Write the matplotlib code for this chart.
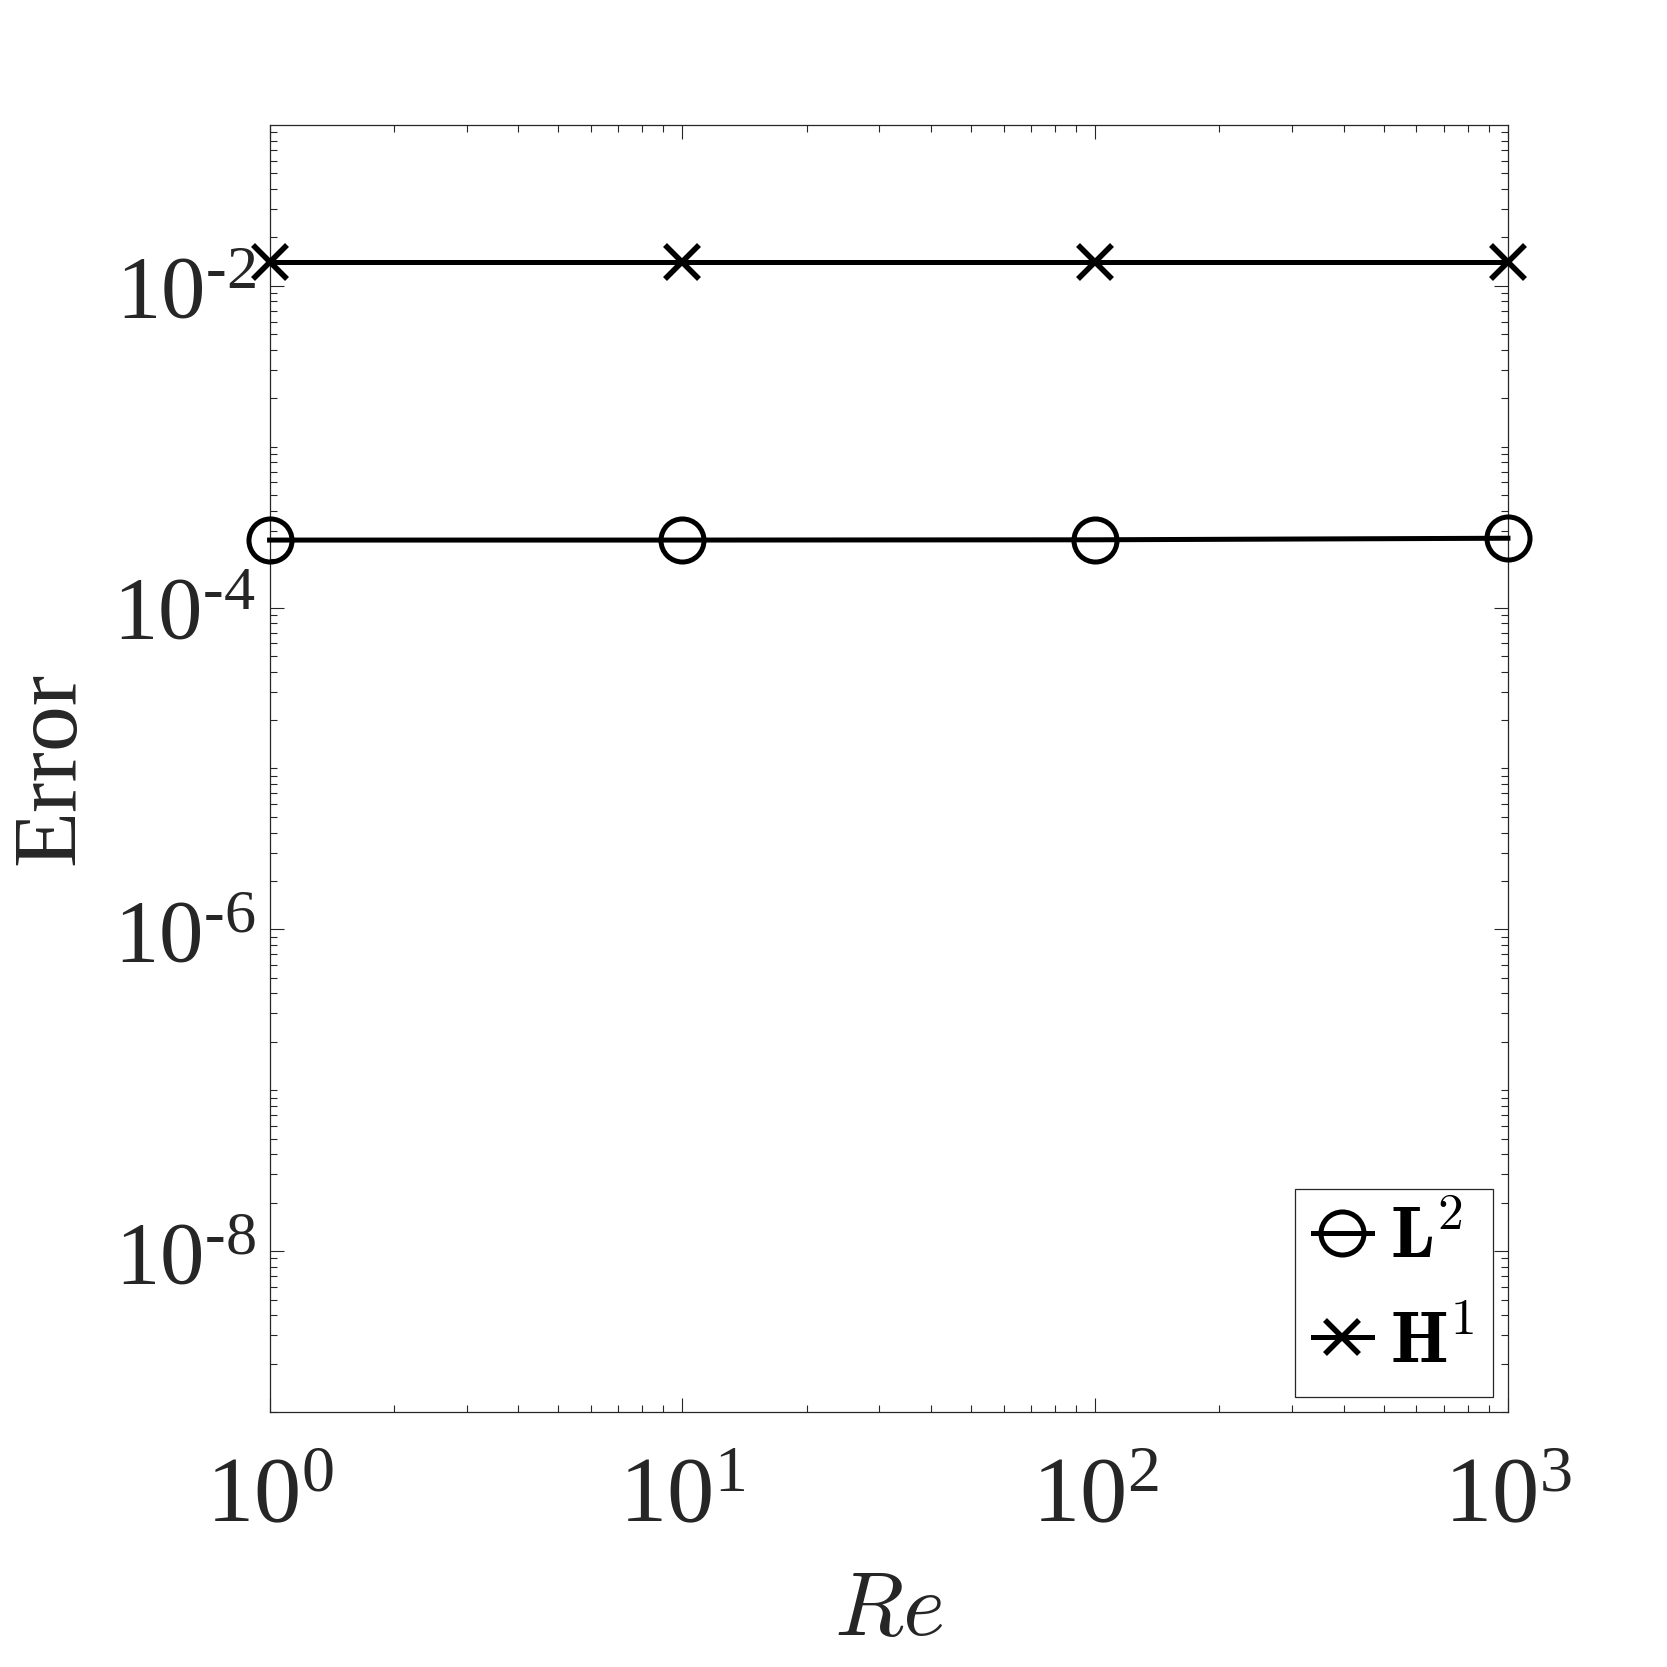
import matplotlib
matplotlib.use("Agg")
import matplotlib.pyplot as plt
from matplotlib.ticker import FixedLocator, FuncFormatter, NullFormatter
from matplotlib.font_manager import FontProperties
import numpy as np

# Data
re_values = [1, 10, 100, 1000]
err_l2 = [2.63e-4, 2.63e-4, 2.64e-4, 2.70e-4]
err_h1 = [1.40e-2, 1.40e-2, 1.40e-2, 1.40e-2]
labels = [r'$\mathbf{L}^2$', r'$\mathbf{H}^1$']
x_major = [1, 10, 100, 1000]
y_major = [1e-8, 1e-6, 1e-4, 1e-2]

plt.rcParams['font.family'] = ['Liberation Serif', 'DejaVu Serif']
plt.rcParams['mathtext.fontset'] = 'custom'
plt.rcParams['mathtext.rm'] = 'Liberation Serif'
plt.rcParams['mathtext.it'] = 'Liberation Serif:italic'
plt.rcParams['mathtext.bf'] = 'Liberation Serif:bold'

TXT = '#262626'
fig = plt.figure(figsize=(16.67, 16.67), dpi=100)
ax = fig.add_axes([0.1617, 0.153, 0.9046 - 0.1617, 0.925 - 0.153])

ax.plot(re_values, err_l2, color='black', lw=3.6, marker='o', ms=31, mew=3.6,
        mfc='none', mec='black', label=labels[0], clip_on=False, zorder=5)
ax.plot(re_values, err_h1, color='black', lw=3.6, marker='x', ms=24, mew=4.0,
        mec='black', label=labels[1], clip_on=False, zorder=5)

ax.set_xscale('log')
ax.set_yscale('log')
ax.set_xlim(1, 1000)
ax.set_ylim(1e-9, 1e-1)

def fmt(v, pos):
    e = int(round(np.log10(v)))
    if e < 0:
        return r'$10^{\text{-}%d}$' % (-e)
    return r'$10^{%d}$' % e

ax.xaxis.set_major_locator(FixedLocator(x_major))
ax.yaxis.set_major_locator(FixedLocator(y_major))
ax.xaxis.set_major_formatter(FuncFormatter(fmt))
ax.yaxis.set_major_formatter(FuncFormatter(fmt))

xminor = [m * 10**d for d in range(0, 3) for m in range(2, 10)]
yminor = [m * 10.0**d for d in range(-9, -1) for m in range(1, 10)]
yminor = [v for v in yminor if not any(abs(np.log10(v) - np.log10(t)) < 1e-6 for t in y_major)]
ax.xaxis.set_minor_locator(FixedLocator(xminor))
ax.yaxis.set_minor_locator(FixedLocator(yminor))
ax.xaxis.set_minor_formatter(NullFormatter())
ax.yaxis.set_minor_formatter(NullFormatter())

ax.tick_params(which='both', direction='in', top=True, right=True, color=TXT, width=0.8)
ax.tick_params(which='major', length=10)
ax.tick_params(which='minor', length=5)
ax.tick_params(axis='x', which='major', labelsize=68, pad=32, labelcolor=TXT)
ax.tick_params(axis='y', which='major', labelsize=64, pad=10, labelcolor=TXT)

for s in ax.spines.values():
    s.set_color(TXT)
    s.set_linewidth(0.9)

ax.set_xlabel(r'$Re$', fontsize=65, color=TXT, math_fontfamily='cm', labelpad=22)
ax.set_ylabel('Error', fontsize=66, color=TXT, labelpad=14)

leg = ax.legend(loc='lower right', prop=FontProperties(size=53, math_fontfamily='cm'),
                frameon=True, fancybox=False, edgecolor=TXT, framealpha=1,
                handlelength=0.8, handletextpad=0.25, borderpad=0.25,
                labelspacing=0.5, borderaxespad=0.2)
leg.get_frame().set_linewidth(0.9)

fig.savefig('out.png', dpi=100, facecolor='white')
